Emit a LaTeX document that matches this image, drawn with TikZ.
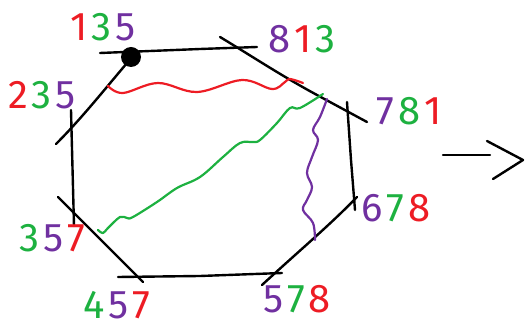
\documentclass[tikz,border=0pt]{standalone}
\usepackage{fontspec}
\setmainfont{Fira Sans}
\definecolor{pred}{RGB}{237,28,36}
\definecolor{pgreen}{RGB}{29,177,64}
\definecolor{ppurple}{RGB}{112,48,160}
\newcommand{\Rd}[1]{\textcolor{pred}{#1}}
\newcommand{\Gn}[1]{\textcolor{pgreen}{#1}}
\newcommand{\Pu}[1]{\textcolor{ppurple}{#1}}
\newcommand{\gp}{\hspace{4pt}}
\begin{document}
\begin{tikzpicture}[x=1pt,y=-1pt,
  edge/.style={draw=black,line width=2.4pt,line cap=round,line join=round},
  wave/.style={line width=2.2pt,line cap=round,line join=round},
  lab/.style={inner sep=0pt,font=\fontsize{40}{40}\selectfont}]
\useasboundingbox (0,0) rectangle (525,328);
% octagon edges
\draw[edge] (100,53) -- (200,49) -- (257,47);
\draw[edge] (220,37) .. controls (250,55) and (280,75) .. (317,95) -- (367,122);
\draw[edge] (347,102) -- (351,160) -- (355,210);
\draw[edge] (357,197) .. controls (330,225) and (300,250) .. (262,285);
\draw[edge] (118,277) -- (200,276) -- (282,273);
\draw[edge] (58,197) -- (143,282);
\draw[edge] (71,110) -- (74,226);
\draw[edge] (127,63) .. controls (100,95) and (80,120) .. (56,144);
% dot
\fill[black] (131,57) circle (10);
% wavy curves
\draw[wave,pred] plot[smooth,tension=0.6] coordinates {(108,86) (123,93) (158,83) (197,92) (242,80) (272,89) (285,82) (290,79) (303,83)};
\draw[wave,pgreen] plot[smooth,tension=0.6] coordinates {(98,230) (103,233) (108,228) (120,217) (127,218) (133,217) (157,202) (177,188) (200,177) (223,157) (240,143) (253,142) (260,140) (277,123) (290,108) (300,108) (323,94)};
\draw[wave,ppurple] plot[smooth,tension=0.6] coordinates {(327,99) (320,117) (313,130) (318,140) (312,157) (307,173) (312,187) (307,200) (303,210) (313,223) (315,240)};
% labels
\node[lab] (l135) at (103,27) {\Rd{1}\gp\Gn{3}\gp\Pu{5}};
\node[lab] (l813) at (302,39) {\Pu{8}\gp\Rd{1}\gp\Gn{3}};
\node[lab] (l235) at (42,95) {\Rd{2}\gp\Gn{3}\gp\Pu{5}};
\node[lab] (l781) at (409,111) {\Pu{7}\gp\Gn{8}\gp\Rd{1}};
\node[lab] (l678) at (396,208) {\Pu{6}\gp\Gn{7}\gp\Rd{8}};
\node[lab] (l357) at (52,238) {\Gn{3}\gp\Pu{5}\gp\Rd{7}};
\node[lab] (l457) at (117,305) {\Gn{4}\gp\Pu{5}\gp\Rd{7}};
\node[lab] (l578) at (297,299) {\Pu{5}\gp\Gn{7}\gp\Rd{8}};
% arrow
\coordinate (a1) at (443,155);
\coordinate (a2) at (490,155);
\coordinate (h1) at (487,141);
\coordinate (h2) at (523,160);
\coordinate (h3) at (493,179);
\draw[edge] (a1) -- (a2);
\draw[edge] (h1) -- (h2) -- (h3);
\end{tikzpicture}
\end{document}
